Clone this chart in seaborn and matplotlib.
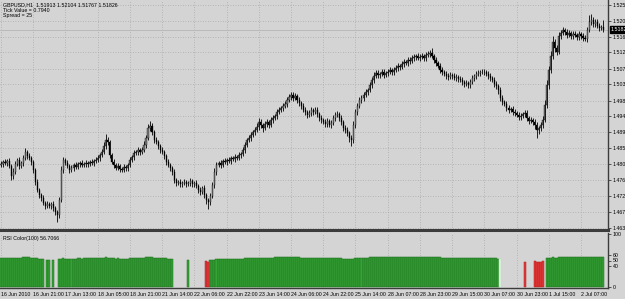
import numpy as np
import pandas as pd
import matplotlib
matplotlib.use("Agg")
import matplotlib.pyplot as plt
import matplotlib.transforms as mtransforms
import seaborn as sns

# ---------------- data (GBPUSD H1, 16 Jun - 2 Jul 2010) ----------------
first_open = 1.4806
close = [
    1.4809, 1.4815, 1.4812, 1.4818, 1.4803, 1.4776, 1.4787, 1.4809, 1.4820, 1.4803, 1.4812, 1.4826, 1.4843, 1.4832, 1.4826, 1.4815,
    1.4792, 1.4759, 1.4737, 1.4723, 1.4715, 1.4701, 1.4692, 1.4698, 1.4692, 1.4698, 1.4687, 1.4676, 1.4667, 1.4709, 1.4792, 1.4820,
    1.4812, 1.4803, 1.4792, 1.4798, 1.4806, 1.4801, 1.4809, 1.4812, 1.4806, 1.4809, 1.4812, 1.4809, 1.4815, 1.4812, 1.4818, 1.4820,
    1.4826, 1.4834, 1.4843, 1.4860, 1.4876, 1.4871, 1.4834, 1.4815, 1.4806, 1.4798, 1.4803, 1.4795, 1.4792, 1.4801, 1.4798, 1.4806,
    1.4820, 1.4829, 1.4840, 1.4843, 1.4848, 1.4843, 1.4848, 1.4862, 1.4882, 1.4909, 1.4915, 1.4898, 1.4876, 1.4871, 1.4860, 1.4848,
    1.4843, 1.4832, 1.4815, 1.4806, 1.4798, 1.4787, 1.4765, 1.4756, 1.4759, 1.4754, 1.4756, 1.4759, 1.4754, 1.4756, 1.4762, 1.4754,
    1.4756, 1.4748, 1.4737, 1.4731, 1.4742, 1.4723, 1.4709, 1.4703, 1.4720, 1.4751, 1.4787, 1.4806, 1.4812, 1.4806, 1.4818, 1.4815,
    1.4820, 1.4818, 1.4826, 1.4823, 1.4829, 1.4826, 1.4834, 1.4837, 1.4848, 1.4862, 1.4876, 1.4882, 1.4890, 1.4898, 1.4904, 1.4912,
    1.4926, 1.4918, 1.4909, 1.4920, 1.4926, 1.4918, 1.4932, 1.4937, 1.4943, 1.4954, 1.4960, 1.4965, 1.4971, 1.4976, 1.4987, 1.4996,
    1.5001, 1.4993, 1.4998, 1.4987, 1.4979, 1.4971, 1.4960, 1.4954, 1.4946, 1.4951, 1.4960, 1.4954, 1.4960, 1.4948, 1.4937, 1.4932,
    1.4926, 1.4920, 1.4929, 1.4918, 1.4923, 1.4937, 1.4946, 1.4948, 1.4937, 1.4926, 1.4909, 1.4904, 1.4895, 1.4882, 1.4876, 1.4918,
    1.4954, 1.4971, 1.4987, 1.4993, 1.5001, 1.5010, 1.5015, 1.5029, 1.5043, 1.5054, 1.5063, 1.5057, 1.5060, 1.5065, 1.5057, 1.5063,
    1.5065, 1.5071, 1.5065, 1.5071, 1.5077, 1.5082, 1.5079, 1.5088, 1.5093, 1.5090, 1.5099, 1.5096, 1.5104, 1.5107, 1.5110, 1.5104,
    1.5107, 1.5110, 1.5104, 1.5113, 1.5116, 1.5118, 1.5110, 1.5099, 1.5090, 1.5082, 1.5071, 1.5065, 1.5060, 1.5054, 1.5051, 1.5057,
    1.5054, 1.5049, 1.5051, 1.5046, 1.5043, 1.5038, 1.5032, 1.5035, 1.5029, 1.5038, 1.5049, 1.5054, 1.5060, 1.5063, 1.5065, 1.5065,
    1.5065, 1.5060, 1.5054, 1.5049, 1.5043, 1.5032, 1.5026, 1.5015, 1.4993, 1.4982, 1.4976, 1.4965, 1.4960, 1.4962, 1.4954, 1.4951,
    1.4946, 1.4940, 1.4943, 1.4948, 1.4951, 1.4937, 1.4929, 1.4932, 1.4926, 1.4918, 1.4904, 1.4909, 1.4918, 1.4932, 1.4974, 1.5029,
    1.5071, 1.5110, 1.5149, 1.5132, 1.5121, 1.5166, 1.5174, 1.5182, 1.5177, 1.5168, 1.5174, 1.5166, 1.5171, 1.5168, 1.5163, 1.5171,
    1.5166, 1.5160, 1.5157, 1.5182, 1.5205, 1.5210, 1.5199, 1.5205, 1.5193, 1.5188, 1.51913, 1.51826,
]
upper_wick_pips = [
    8, 6, 9, 5, 8, 6, 10, 9, 6, 8, 5, 9, 12, 6, 8, 5,
    6, 5, 8, 6, 5, 8, 6, 9, 5, 6, 8, 5, 6, 9, 12, 8,
    6, 8, 5, 9, 6, 8, 5, 6, 9, 5, 8, 6, 5, 8, 6, 9,
    8, 6, 9, 10, 16, 8, 6, 5, 8, 6, 9, 5, 6, 8, 5, 6,
    8, 6, 9, 5, 8, 6, 9, 10, 8, 12, 15, 9, 6, 8, 5, 6,
    8, 5, 6, 9, 5, 6, 8, 5, 6, 9, 5, 8, 6, 5, 8, 6,
    6, 8, 5, 9, 6, 8, 5, 6, 9, 8, 10, 8, 6, 9, 5, 8,
    6, 8, 5, 6, 9, 5, 8, 6, 9, 8, 6, 9, 8, 6, 9, 10,
    12, 8, 6, 9, 8, 6, 9, 8, 6, 9, 8, 6, 9, 8, 10, 9,
    10, 8, 9, 6, 8, 6, 9, 8, 6, 9, 8, 6, 9, 8, 6, 8,
    6, 9, 8, 6, 9, 10, 8, 9, 6, 8, 6, 9, 8, 6, 9, 12,
    9, 8, 10, 8, 9, 8, 6, 9, 8, 10, 9, 8, 6, 9, 8, 6,
    8, 9, 6, 8, 9, 8, 6, 9, 8, 6, 9, 8, 9, 8, 6, 9,
    8, 9, 6, 8, 9, 8, 13, 6, 8, 6, 9, 8, 6, 8, 9, 8,
    6, 9, 8, 6, 8, 9, 6, 8, 6, 9, 8, 6, 9, 8, 6, 9,
    8, 6, 9, 8, 6, 9, 8, 6, 9, 8, 6, 9, 8, 6, 9, 8,
    6, 9, 8, 6, 8, 9, 6, 8, 6, 9, 8, 6, 9, 12, 13, 14,
    12, 13, 16, 9, 8, 12, 9, 8, 6, 9, 8, 6, 9, 8, 6, 8,
    6, 8, 9, 10, 20, 18, 9, 8, 9, 8, 6, 19,
]
lower_wick_pips = [
    6, 9, 5, 8, 6, 12, 8, 6, 5, 9, 6, 8, 6, 9, 5, 8,
    8, 9, 6, 8, 9, 6, 8, 5, 6, 9, 8, 10, 20, 9, 6, 8,
    6, 5, 9, 6, 8, 5, 6, 8, 5, 6, 9, 8, 6, 5, 8, 6,
    6, 8, 5, 6, 8, 9, 8, 6, 9, 5, 6, 8, 6, 5, 9, 8,
    6, 5, 8, 6, 9, 8, 6, 5, 8, 6, 8, 9, 8, 6, 9, 8,
    6, 8, 9, 6, 8, 9, 10, 8, 6, 9, 8, 6, 8, 6, 9, 8,
    8, 6, 9, 8, 6, 9, 10, 18, 8, 6, 9, 8, 6, 8, 5, 6,
    8, 6, 9, 5, 8, 6, 5, 8, 6, 8, 6, 5, 8, 6, 8, 6,
    8, 9, 12, 6, 8, 9, 6, 8, 6, 8, 5, 6, 8, 6, 8, 6,
    8, 9, 6, 8, 9, 8, 6, 9, 8, 6, 8, 9, 6, 8, 9, 8,
    6, 8, 9, 6, 8, 6, 8, 6, 9, 8, 9, 8, 9, 12, 18, 8,
    9, 8, 6, 9, 8, 6, 8, 6, 9, 8, 6, 8, 9, 6, 8, 6,
    8, 6, 9, 8, 6, 8, 9, 6, 8, 6, 9, 8, 6, 8, 9, 6,
    8, 6, 9, 8, 6, 8, 6, 9, 8, 6, 9, 8, 6, 9, 8, 6,
    8, 6, 9, 8, 6, 9, 8, 6, 9, 8, 6, 8, 9, 6, 8, 6,
    8, 6, 9, 8, 6, 9, 8, 10, 9, 8, 6, 9, 8, 6, 9, 8,
    6, 8, 9, 6, 8, 9, 8, 6, 9, 12, 22, 12, 9, 8, 6, 9,
    10, 9, 8, 12, 9, 6, 8, 6, 9, 8, 6, 9, 8, 6, 9, 8,
    8, 9, 6, 8, 6, 8, 9, 8, 6, 8, 6, 6,
]
rsi = [
    55.2, 55.0, 55.1, 55.4, 55.0, 54.6, 54.8, 55.2, 55.6, 55.3, 55.5, 55.8, 56.1, 55.9, 55.7, 55.4,
    54.9, 54.3, 53.9, 53.6, 53.4, 53.1, 51.8, 51.2, 51.0, 50.6, 51.0, 50.4, 50.1, 52.0, 53.3, 53.8,
    53.7, 53.5, 53.2, 53.3, 53.6, 53.5, 53.8, 53.9, 53.7, 53.8, 53.9, 53.8, 54.0, 53.9, 54.1, 54.2,
    54.4, 54.6, 54.9, 55.3, 55.8, 55.6, 54.8, 54.3, 54.0, 53.7, 53.8, 53.5, 53.4, 53.6, 53.5, 53.7,
    54.0, 54.2, 54.5, 54.6, 54.8, 54.6, 54.8, 55.2, 55.8, 56.6, 56.9, 56.3, 55.6, 55.4, 55.0, 54.7,
    54.8, 54.4, 53.8, 53.5, 53.2, 52.8, 51.9, 51.5, 51.6, 51.3, 51.4, 51.5, 51.3, 51.4, 51.6, 51.3,
    51.4, 51.0, 50.5, 50.2, 50.6, 49.8, 48.2, 47.8, 50.8, 50.6, 51.8, 52.4, 52.6, 52.4, 52.8, 52.7,
    52.9, 52.8, 53.0, 52.9, 53.1, 53.0, 53.2, 53.3, 53.6, 54.0, 54.4, 54.5, 54.8, 55.0, 55.1, 55.3,
    55.4, 55.2, 55.0, 55.3, 55.4, 55.2, 55.5, 55.6, 55.7, 55.9, 56.0, 56.1, 56.2, 56.3, 56.5, 56.7,
    56.8, 56.5, 56.6, 56.2, 55.9, 55.6, 55.2, 55.0, 54.7, 54.8, 55.0, 54.9, 55.0, 54.7, 54.4, 54.2,
    54.0, 53.9, 54.1, 53.8, 53.9, 54.2, 54.5, 54.5, 54.2, 53.9, 53.4, 53.2, 52.9, 52.5, 52.3, 53.2,
    53.9, 54.3, 54.8, 55.0, 55.2, 55.4, 55.5, 55.8, 56.1, 56.4, 56.6, 56.5, 56.5, 56.7, 56.5, 56.6,
    56.4, 56.5, 56.4, 56.5, 56.7, 56.8, 56.7, 56.9, 57.0, 56.9, 57.1, 57.0, 57.2, 57.2, 57.3, 57.1,
    57.1, 57.2, 57.0, 57.2, 57.3, 57.4, 57.1, 56.7, 56.4, 56.1, 55.7, 55.5, 55.3, 55.1, 55.0, 55.1,
    55.2, 55.0, 55.1, 54.9, 54.8, 54.6, 54.4, 54.5, 54.3, 54.5, 54.8, 55.0, 55.1, 55.2, 55.3, 55.3,
    55.3, 55.1, 54.9, 54.7, 54.5, 54.1, 53.9, 53.5, 52.7, 52.3, 52.1, 51.7, 51.5, 51.6, 51.3, 51.2,
    51.0, 50.8, 50.9, 50.6, 48.0, 49.8, 49.6, 49.5, 49.3, 48.2, 47.8, 47.9, 48.1, 48.3, 49.9, 53.8,
    54.5, 55.2, 55.8, 55.6, 55.5, 56.1, 56.2, 56.4, 56.3, 56.2, 56.3, 56.1, 56.2, 56.1, 56.0, 56.2,
    56.1, 56.0, 55.9, 56.3, 56.7, 56.8, 56.6, 56.7, 56.5, 56.4, 56.5, 56.7066,
]
# colour state of the RSI histogram, run-length: G green, R red, L pale, - none
rsi_state_runs = [("G", 22), ("-", 1), ("G", 2), ("-", 1), ("G", 1), ("-", 2), ("G", 57),
                  ("-", 7), ("G", 1), ("-", 8), ("R", 2), ("G", 144), ("L", 1), ("-", 11),
                  ("R", 1), ("-", 4), ("R", 5), ("-", 1), ("G", 29)]
time_labels = ["16 Jun 2010", "16 Jun 21:00", "17 Jun 13:00", "18 Jun 05:00", "18 Jun 21:00",
               "21 Jun 14:00", "22 Jun 06:00", "22 Jun 22:00", "23 Jun 14:00", "24 Jun 06:00",
               "24 Jun 22:00", "25 Jun 14:00", "28 Jun 07:00", "28 Jun 23:00", "29 Jun 15:00",
               "30 Jun 07:00", "30 Jun 23:00", "1 Jul 15:00", "2 Jul 07:00"]
bars_per_label = 16
price_ticks = [1.52520, 1.52080, 1.51640, 1.51200, 1.50750, 1.50310, 1.49860, 1.49420,
               1.48970, 1.48530, 1.48090, 1.47640, 1.47200, 1.46750, 1.46310]
rsi_ticks = [0, 40, 50, 60, 100]
symbol = "GBPUSD,H1"
last_ohlc = ["1.51913", "1.52104", "1.51767", "1.51826"]
tick_value = "0.7940"
spread = "25"
rsi_name = "RSI Color(100)"

# ---------------- build frame ----------------
n = len(close)
states = []
for s, cnt in rsi_state_runs:
    states += [s] * cnt
df = pd.DataFrame({"bar": np.arange(n), "close": close, "rsi": rsi, "state": states})
df["open"] = [first_open] + close[:-1]
df["high"] = df[["open", "close"]].max(axis=1) + np.array(upper_wick_pips) / 1e4
df["low"] = df[["open", "close"]].min(axis=1) - np.array(lower_wick_pips) / 1e4

# ---------------- style ----------------
BG = "#d4d4d4"
GRID = "#aaaaaa"
FRAME = "#3c3c3c"
sns.set_theme(style="white")
plt.rcParams["font.family"] = ["Liberation Sans", "DejaVu Sans"]
FS = 3.8

W, H = 625, 299
fig = plt.figure(figsize=(W / 100, H / 100), dpi=100)
fig.patch.set_facecolor(BG)
right_px = 608
ax = fig.add_axes([0, (H - 230) / H, right_px / W, 230 / H])
ax2 = fig.add_axes([0, (H - 288) / H, right_px / W, 55 / H])
for a in (ax, ax2):
    a.set_facecolor(BG)

xlim = (-0.5, 301.4)
tick_pos = [k * bars_per_label for k in range(len(time_labels))]

# ---------------- candles ----------------
ax.vlines(df["bar"], df["low"], df["high"], color="black", lw=0.6, zorder=3)
up = df["close"] >= df["open"]
body_bottom = df[["open", "close"]].min(axis=1)
body_h = (df["close"] - df["open"]).abs().clip(lower=0.00006)
ax.bar(df["bar"][up], body_h[up], bottom=body_bottom[up], width=0.55,
       color="#7c7c7c", edgecolor="black", linewidth=0.25, zorder=4)
ax.bar(df["bar"][~up], body_h[~up], bottom=body_bottom[~up], width=0.55,
       color="black", edgecolor="black", linewidth=0.25, zorder=4)

ytop = 1.52659
ybot = ytop - 230 * 0.0002785
ax.set_ylim(ybot, ytop)
ax.set_xlim(*xlim)
ax.axhline(float(last_ohlc[3]), color="#b0b0b0", lw=0.5, zorder=2)

ax.set_xticks(tick_pos)
ax.set_xticklabels([])
ax.tick_params(axis="x", length=0)
ax.yaxis.tick_right()
ax.set_yticks(price_ticks)
ax.set_yticklabels([f"{v:.5f}" for v in price_ticks], fontsize=FS, color="black")
ax.tick_params(axis="y", length=2, width=0.6, color=FRAME, pad=1.5)
ax.grid(True, color=GRID, linestyle=(0, (1, 2)), lw=0.6)
ax.set_axisbelow(True)
for side in ("top", "left"):
    ax.spines[side].set_visible(False)
ax.spines["right"].set_color(FRAME)
ax.spines["right"].set_linewidth(1.0)
ax.spines["bottom"].set_color(FRAME)
ax.spines["bottom"].set_linewidth(2.2)

trans = mtransforms.blended_transform_factory(ax.transAxes, ax.transData)
ax.text(1.005, float(last_ohlc[3]), last_ohlc[3], transform=trans, fontsize=FS,
        color="white", va="center", ha="left",
        bbox=dict(boxstyle="square,pad=0.2", fc="black", ec="black"))

# ---------------- RSI histogram ----------------
palette = {"G": ("#36a336", "#1c6f1c"), "R": ("#e53b3b", "#b01c1c"), "L": ("#e6f3e6", "#b8dcb8")}
for st, (fc, ec) in palette.items():
    sub = df[df["state"] == st]
    if len(sub):
        sns.barplot(data=sub, x="bar", y="rsi", native_scale=True, width=1.0, color=fc,
                    saturation=1, edgecolor=ec, linewidth=0.35, errorbar=None, ax=ax2, zorder=3)

ax2.set_xlim(*xlim)
ax2.set_ylim(-1.9, 101.9)
ax2.set_xlabel("")
ax2.set_ylabel("")
ax2.set_xticks(tick_pos)
ax2.set_xticklabels(time_labels, fontsize=FS, ha="left", color="black")
ax2.tick_params(axis="x", length=2, width=0.6, color=FRAME, pad=1)
ax2.yaxis.tick_right()
ax2.set_yticks(rsi_ticks)
ax2.set_yticklabels([str(v) for v in rsi_ticks], fontsize=FS, color="black")
ax2.tick_params(axis="y", length=2, width=0.6, color=FRAME, pad=1.5)
ax2.grid(True, axis="x", color=GRID, linestyle=(0, (1, 2)), lw=0.6)
ax2.set_axisbelow(True)
ax2.spines["top"].set_visible(False)
ax2.spines["left"].set_visible(False)
ax2.spines["right"].set_color(FRAME)
ax2.spines["right"].set_linewidth(1.0)
ax2.spines["bottom"].set_color(FRAME)
ax2.spines["bottom"].set_linewidth(1.0)

# ---------------- header texts ----------------
def px_text(x, y, s, **kw):
    fig.text(x / W, 1 - y / H, s, fontsize=FS, color="black", va="center", ha="left", **kw)

px_text(3, 4.5, f"{symbol}  " + " ".join(last_ohlc))
px_text(3, 10, f"Tick Value = {tick_value}")
px_text(3, 15.5, f"Spread = {spread}")
px_text(3, 238.5, f"{rsi_name} {rsi[-1]:.4f}")

fig.savefig("out.png", dpi=100, facecolor=BG)
